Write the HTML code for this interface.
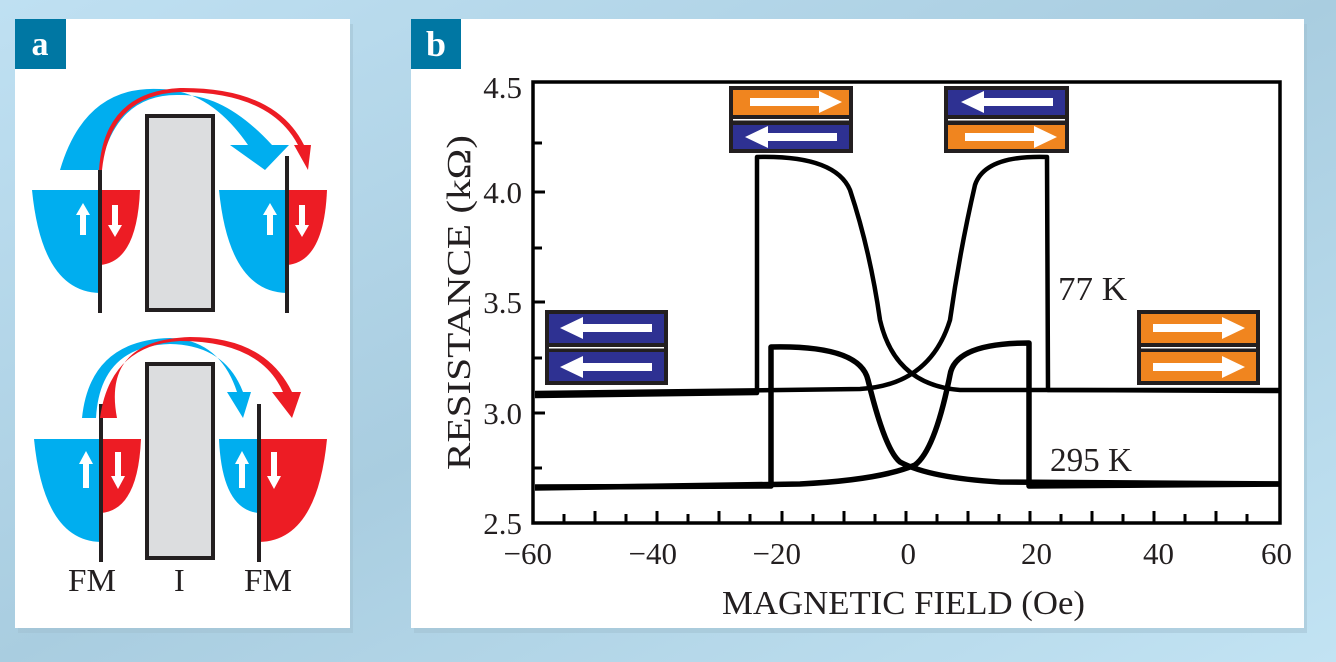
<!DOCTYPE html>
<html><head><meta charset="utf-8"><style>
html,body{margin:0;padding:0;background:#b6d8ea;}
svg{display:block;font-family:"Liberation Serif",serif;}
</style></head><body>
<svg width="1336" height="662" viewBox="0 0 1336 662" xmlns="http://www.w3.org/2000/svg">
<defs>
<linearGradient id="bg" x1="0" y1="0" x2="1" y2="1"><stop offset="0" stop-color="#bfe0f2"/><stop offset="0.5" stop-color="#a9cde0"/><stop offset="1" stop-color="#c2e3f3"/></linearGradient>
</defs>
<rect width="1336" height="662" fill="url(#bg)"/>
<rect x="18" y="24" width="335" height="609" fill="#9fbfcf" opacity="0.5"/>
<rect x="414" y="24" width="893" height="609" fill="#9fbfcf" opacity="0.5"/>
<rect x="15" y="19" width="335" height="609" fill="#fff"/>
<rect x="411" y="19" width="893" height="609" fill="#fff"/>
<rect x="15" y="19" width="51" height="50" fill="#0077a3"/>
<text x="40" y="55" font-size="34" fill="#fff" text-anchor="middle" font-weight="bold">a</text>
<rect x="411" y="19" width="50" height="50" fill="#0077a3"/>
<text x="436" y="56" font-size="36" fill="#fff" text-anchor="middle" font-weight="bold">b</text>

<!-- Panel a top -->
<path d="M32 190 H100 V293 Q42 292 32 190Z" fill="#00aeef"/>
<path d="M100 190 H140 Q137 262 100 265Z" fill="#ed1c24"/>
<path d="M219 190 H287 V293 Q229 292 219 190Z" fill="#00aeef"/>
<path d="M287 190 H327 Q324 262 287 265Z" fill="#ed1c24"/>
<rect x="98" y="156" width="4" height="157" fill="#231f20"/>
<rect x="285" y="156" width="4" height="157" fill="#231f20"/>
<rect x="147" y="116" width="66" height="194" fill="#dcdddf" stroke="#231f20" stroke-width="4"/>
<path d="M60 170 Q85 85 160 89 Q210 90 248 145 L230 145 L265 170 L289 145 L272 145 Q225 94 180 95 Q115 93 100 170Z" fill="#00aeef"/>
<path d="M102 170 Q110 95 180 92 Q270 92 298 145 L294 145 L308 170 L311 145 L304 145 Q275 87 180 88 Q104 92 99 170Z" fill="#ed1c24"/>
<path d="M80 235 h6 v-20 h4 l-7 -12 l-7 12 h4z" fill="#fff"/>
<path d="M112 205 h6 v20 h4 l-7 12 l-7 -12 h4z" fill="#fff"/>
<path d="M267 235 h6 v-20 h4 l-7 -12 l-7 12 h4z" fill="#fff"/>
<path d="M299 205 h6 v20 h4 l-7 12 l-7 -12 h4z" fill="#fff"/>

<!-- Panel a bottom -->
<path d="M34 439 H101 V542 Q44 541 34 439Z" fill="#00aeef"/>
<path d="M101 439 H141 Q138 510 101 513Z" fill="#ed1c24"/>
<path d="M219 439 H259 V513 Q222 510 219 439Z" fill="#00aeef"/>
<path d="M259 439 H327 Q317 541 259 542Z" fill="#ed1c24"/>
<rect x="99" y="404" width="4" height="158" fill="#231f20"/>
<rect x="257" y="404" width="4" height="158" fill="#231f20"/>
<rect x="147" y="364" width="66" height="194" fill="#dcdddf" stroke="#231f20" stroke-width="4"/>
<path d="M82 418 Q90 340 170 338 Q220 340 237 392 L227 392 L243 418 L251 392 L243 392 Q225 345 170 344 Q100 346 96 418Z" fill="#00aeef"/>
<path d="M100 418 Q110 345 180 341 Q260 341 283 392 L272 392 L292 418 L301 392 L292 392 Q265 337 190 337 Q102 340 117 418Z" fill="#ed1c24"/>
<path d="M83 488 h6 v-24 h4 l-7 -13 l-7 13 h4z" fill="#fff"/>
<path d="M115 452 h6 v24 h4 l-7 13 l-7 -13 h4z" fill="#fff"/>
<path d="M239 488 h6 v-24 h4 l-7 -13 l-7 13 h4z" fill="#fff"/>
<path d="M271 452 h6 v24 h4 l-7 13 l-7 -13 h4z" fill="#fff"/>
<g font-size="32" fill="#231f20">
<text x="68" y="591" textLength="48" lengthAdjust="spacingAndGlyphs">FM</text>
<text x="174" y="591">I</text>
<text x="244" y="591" textLength="48" lengthAdjust="spacingAndGlyphs">FM</text>
</g>

<!-- Panel b axes -->
<rect x="533" y="82" width="747" height="441" fill="none" stroke="#000" stroke-width="3.5"/>
<g stroke="#000" stroke-width="3">
<path d="M533 143 h9 M533 192 h12 M533 248 h9 M533 302 h12 M533 358 h9 M533 413 h12 M533 468 h9"/>
<path d="M564 523 v-9 M595 523 v-12 M626 523 v-9 M657 523 v-12 M688 523 v-9 M719 523 v-12 M750 523 v-9 M782 523 v-12 M813 523 v-9 M844 523 v-12 M875 523 v-9 M906 523 v-12 M937 523 v-9 M968 523 v-12 M999 523 v-9 M1030 523 v-12 M1061 523 v-9 M1092 523 v-12 M1123 523 v-9 M1154 523 v-12 M1185 523 v-9 M1216 523 v-12 M1247 523 v-9"/>
</g>
<g font-size="31" fill="#231f20" text-anchor="end">
<text x="522" y="98">4.5</text>
<text x="522" y="203">4.0</text>
<text x="522" y="313">3.5</text>
<text x="522" y="424">3.0</text>
<text x="522" y="534">2.5</text>
</g>
<g font-size="31" fill="#231f20" text-anchor="end">
<text x="552" y="564">−60</text>
<text x="677" y="564">−40</text>
<text x="801" y="564">−20</text>
<text x="916" y="564">0</text>
<text x="1052" y="564">20</text>
<text x="1174" y="564">40</text>
<text x="1292" y="564">60</text>
</g>
<text x="722" y="614" font-size="34" fill="#231f20" textLength="363" lengthAdjust="spacingAndGlyphs">MAGNETIC FIELD (Oe)</text>
<text transform="translate(470,470) rotate(-90)" font-size="34" fill="#231f20" textLength="335" lengthAdjust="spacingAndGlyphs">RESISTANCE (kΩ)</text>
<text x="1058" y="300" font-size="34" fill="#231f20" textLength="69" lengthAdjust="spacingAndGlyphs">77 K</text>
<text x="1050" y="471" font-size="34" fill="#231f20" textLength="82" lengthAdjust="spacingAndGlyphs">295 K</text>

<!-- curves -->
<g fill="none" stroke="#000" stroke-linejoin="round">
<path stroke-width="4.5" d="M535 396 L757 393 L757 157 Q835 155 850 190 Q870 250 880 320 Q895 385 960 390 L1280 390"/>
<path stroke-width="4.5" d="M1280 391 L1048 390 L1047 157 Q985 155 975 185 Q960 250 950 320 Q930 385 860 389 L535 393"/>
<path stroke-width="5.5" d="M535 487 L771 486 L771 347 Q860 345 868 380 Q885 450 900 462 Q930 478 1000 482 L1280 484"/>
<path stroke-width="5.5" d="M1280 484 L1029 486 L1029 343 Q955 343 950 375 Q935 450 915 465 Q880 480 800 484 L535 488"/>
</g>

<!-- arrow boxes -->
<rect x="729" y="86" width="124" height="67" fill="#231f20"/>
<rect x="733" y="90" width="116" height="25" fill="#f0851f"/>
<rect x="733" y="119" width="116" height="1.5" fill="#fff"/>
<rect x="733" y="125" width="116" height="24" fill="#2e3192"/>
<path d="M750 98 h69 v-7 l23 11 l-23 11 v-7 h-69z" fill="#fff"/>
<path d="M837 133 h-69 v-7 l-23 11 l23 11 v-7 h69z" fill="#fff"/>

<rect x="944" y="86" width="125" height="67" fill="#231f20"/>
<rect x="948" y="90" width="117" height="25" fill="#2e3192"/>
<rect x="948" y="119" width="117" height="1.5" fill="#fff"/>
<rect x="948" y="125" width="117" height="24" fill="#f0851f"/>
<path d="M1053 98 h-69 v-7 l-23 11 l23 11 v-7 h69z" fill="#fff"/>
<path d="M965 133 h69 v-7 l23 11 l-23 11 v-7 h-69z" fill="#fff"/>

<rect x="545" y="310" width="123" height="75" fill="#231f20"/>
<rect x="549" y="314" width="115" height="29" fill="#2e3192"/>
<rect x="549" y="347" width="115" height="1.5" fill="#fff"/>
<rect x="549" y="352" width="115" height="29" fill="#2e3192"/>
<path d="M652 324 h-69 v-7 l-23 11 l23 11 v-7 h69z" fill="#fff"/>
<path d="M652 363 h-69 v-7 l-23 11 l23 11 v-7 h69z" fill="#fff"/>

<rect x="1137" y="310" width="123" height="75" fill="#231f20"/>
<rect x="1141" y="314" width="115" height="29" fill="#f0851f"/>
<rect x="1141" y="347" width="115" height="1.5" fill="#fff"/>
<rect x="1141" y="352" width="115" height="29" fill="#f0851f"/>
<path d="M1153 324 h69 v-7 l23 11 l-23 11 v-7 h-69z" fill="#fff"/>
<path d="M1153 363 h69 v-7 l23 11 l-23 11 v-7 h-69z" fill="#fff"/>
</svg>
</body></html>
